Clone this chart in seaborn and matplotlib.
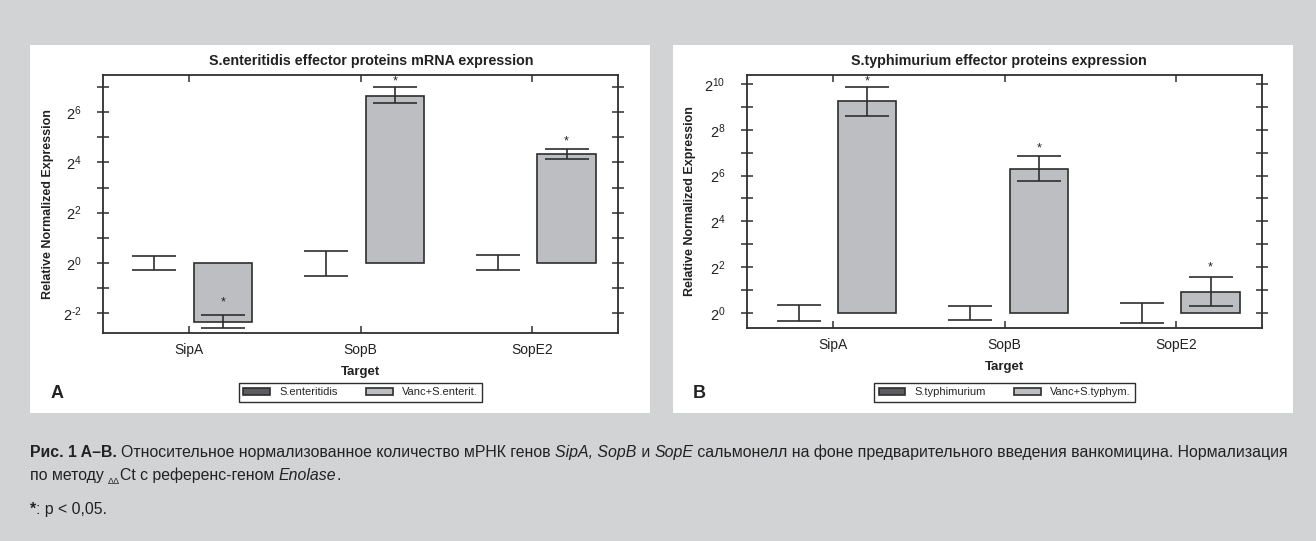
import matplotlib
matplotlib.use('Agg')
import matplotlib.pyplot as plt
from matplotlib.patches import Rectangle
from matplotlib.ticker import MultipleLocator, FuncFormatter
import numpy as np
import pandas as pd
import seaborn as sns

# значения в log2 (ось подписана как 2^n)
targets = ['SipA', 'SopB', 'SopE2']

# A: S.enteritidis
ent_labels = ['S.enteritidis', 'Vanc+S.enterit.']
ent_ctrl = [0.0, 0.0, 0.0]
ent_ctrl_lo = [-0.29, -0.50, -0.29]
ent_ctrl_hi = [0.29, 0.49, 0.32]
ent_vanc = [-2.33, 6.65, 4.33]
ent_vanc_lo = [-2.57, 6.36, 4.15]
ent_vanc_hi = [-2.07, 7.00, 4.53]
ent_star = [-1.55, 7.20, 4.83]

# B: S.typhimurium
typ_labels = ['S.typhimurium', 'Vanc+S.typhym.']
typ_ctrl = [0.0, 0.0, 0.0]
typ_ctrl_lo = [-0.36, -0.32, -0.45]
typ_ctrl_hi = [0.36, 0.32, 0.44]
typ_vanc = [9.24, 6.29, 0.90]
typ_vanc_lo = [8.60, 5.75, 0.29]
typ_vanc_hi = [9.88, 6.84, 1.57]
typ_star = [10.12, 7.20, 1.97]

BG = '#d1d3d4'
BAR = '#bdbec2'
DARK = '#5b5d61'
EDGE = '#2e2e2e'
TXT = '#222222'

sns.set_theme(style='white')
plt.rcParams['font.family'] = ['Liberation Sans', 'DejaVu Sans']
plt.rcParams['mathtext.fontset'] = 'custom'
plt.rcParams['mathtext.rm'] = 'Liberation Sans'
plt.rcParams['mathtext.it'] = 'Liberation Sans:italic'
plt.rcParams['mathtext.bf'] = 'Liberation Sans:bold'

W, H = 1316, 541
fig = plt.figure(figsize=(W / 100, H / 100), dpi=100, facecolor=BG)


def px_box(x0, y0, x1, y1):
    return [x0 / W, 1 - y1 / H, (x1 - x0) / W, (y1 - y0) / H]


# белые подложки панелей
for x0, x1 in [(30, 650), (673, 1293)]:
    fig.add_artist(Rectangle((x0 / W, 1 - 413 / H), (x1 - x0) / W, (413 - 45) / H,
                             transform=fig.transFigure, facecolor='white',
                             edgecolor='none', zorder=-5))


def pow2(v, pos):
    n = int(round(v))
    if n % 2:
        return ''
    # дефис вместо длинного минуса, как в оригинале
    return f'$2^{{{n}}}$' if n >= 0 else '$2^{\u2010' + str(-n) + '}$'


def panel(box, title, title_x, labels, ctrl, ctrl_lo, ctrl_hi, vanc, vanc_lo,
          vanc_hi, star, ylim, letter, letter_x, ylab_x):
    ax = fig.add_axes(px_box(*box))
    ax.set_facecolor('white')
    df = pd.DataFrame({
        'Target': targets * 2,
        'group': [labels[0]] * len(targets) + [labels[1]] * len(targets),
        'value': list(ctrl) + list(vanc),
    })
    sns.barplot(data=df, x='Target', y='value', hue='group', palette=[DARK, BAR],
                width=0.8, gap=0.15, errorbar=None, edgecolor=EDGE,
                linewidth=1.2, saturation=1, ax=ax)

    # у контроля столбец нулевой высоты - не рисуем контур
    for p in ax.containers[0]:
        if abs(p.get_height()) < 1e-9:
            p.set_linewidth(0)

    for cont, mid, lo, hi in [(ax.containers[0], ctrl, ctrl_lo, ctrl_hi),
                              (ax.containers[1], vanc, vanc_lo, vanc_hi)]:
        xs = [p.get_x() + p.get_width() / 2 for p in cont]
        mid = np.array(mid)
        err = [mid - np.array(lo), np.array(hi) - mid]
        ax.errorbar(xs, mid, yerr=err, fmt='none', ecolor=EDGE, elinewidth=1.2,
                    capsize=16, capthick=1.2, zorder=3)

    xs = [p.get_x() + p.get_width() / 2 for p in ax.containers[1]]
    for x, s in zip(xs, star):
        ax.text(x, s, '*', ha='center', va='center', fontsize=9, color=TXT)

    ax.set_xlim(-0.5, 2.5)
    ax.set_ylim(*ylim)
    ax.yaxis.set_major_locator(MultipleLocator(1))
    ax.yaxis.set_major_formatter(FuncFormatter(pow2))
    ax.tick_params(axis='y', direction='inout', length=9, width=1.1, color=EDGE,
                   left=True, right=True, labelsize=10.5, labelcolor=TXT, pad=11)
    ax.tick_params(axis='x', which='major', bottom=True, top=False, direction='inout',
                   length=9, width=1.1, color=EDGE, labelsize=10, labelcolor=TXT, pad=7.5)
    ax.tick_params(axis='x', top=True, direction='in', length=5, width=1.1)
    ax.tick_params(axis='x', bottom=True)
    for sp in ax.spines.values():
        sp.set_visible(True)
        sp.set_color(EDGE)
        sp.set_linewidth(1.3)
    ax.grid(False)

    ax.set_title(title, fontweight='bold', fontsize=10.3, color=TXT, pad=7, x=title_x)
    ax.set_xlabel('Target', fontweight='bold', fontsize=9.5, color=TXT, labelpad=6)
    ax.set_ylabel('Relative Normalized Expression', fontweight='bold', fontsize=9,
                  color=TXT)
    ax.yaxis.set_label_coords(ylab_x, 0.5)

    cx = (box[0] + box[2]) / 2
    sns.move_legend(ax, 'upper center', bbox_to_anchor=(cx / W, 1 - 383 / H),
                    bbox_transform=fig.transFigure, ncol=2,
                    title=None, frameon=True, fancybox=False, framealpha=1,
                    edgecolor=EDGE, fontsize=8, handlelength=2.4,
                    handleheight=0.55, handletextpad=0.8, columnspacing=2.6,
                    borderpad=0.4, borderaxespad=0)
    ax.get_legend().get_frame().set_linewidth(1.0)

    fig.text(letter_x / W, 1 - 393 / H, letter, fontweight='bold', fontsize=13,
             ha='center', va='center', color=TXT)
    return ax


panel((103, 75, 618, 333), 'S.enteritidis effector proteins mRNA expression', 0.52,
      ent_labels, ent_ctrl, ent_ctrl_lo, ent_ctrl_hi, ent_vanc, ent_vanc_lo,
      ent_vanc_hi, ent_star, (-2.78, 7.47), 'A', 57, -0.095)
panel((747, 75, 1262, 328), 'S.typhimurium effector proteins expression', 0.49,
      typ_labels, typ_ctrl, typ_ctrl_lo, typ_ctrl_hi, typ_vanc, typ_vanc_lo,
      typ_vanc_hi, typ_star, (-0.66, 10.39), 'B', 699, -0.099)

# подпись к рисунку, собираем из кусков разного начертания
renderer = fig.canvas.get_renderer()


def write_line(pieces, x_px, y_px, size=11.4):
    x = x_px
    for s, kw in pieces:
        dy = kw.pop('dy', 0)
        fs = kw.pop('size', size)
        t = fig.text(x / W, 1 - (y_px + dy) / H, s, fontsize=fs, va='baseline',
                     color=TXT, **kw)
        x = t.get_window_extent(renderer).x1


write_line([
    ('Рис. 1 A–B. ', dict(fontweight='bold')),
    ('Относительное нормализованное количество мРНК генов ', {}),
    ('SipA, SopB', dict(fontstyle='italic')),
    (' и ', {}),
    ('SopE', dict(fontstyle='italic')),
    (' сальмонелл на фоне предварительного введения ванкомицина. Нормализация', {}),
], 30, 457)
write_line([
    ('по методу ', {}),
    ('ΔΔ', dict(size=6.5, dy=4)),
    ('Ct с референс-геном ', {}),
    ('Enolase', dict(fontstyle='italic')),
    ('.', {}),
], 30, 480)
write_line([
    ('*', dict(fontweight='bold')),
    (': p < 0,05.', {}),
], 30, 514)

fig.savefig('out.png', dpi=100, facecolor=BG)
